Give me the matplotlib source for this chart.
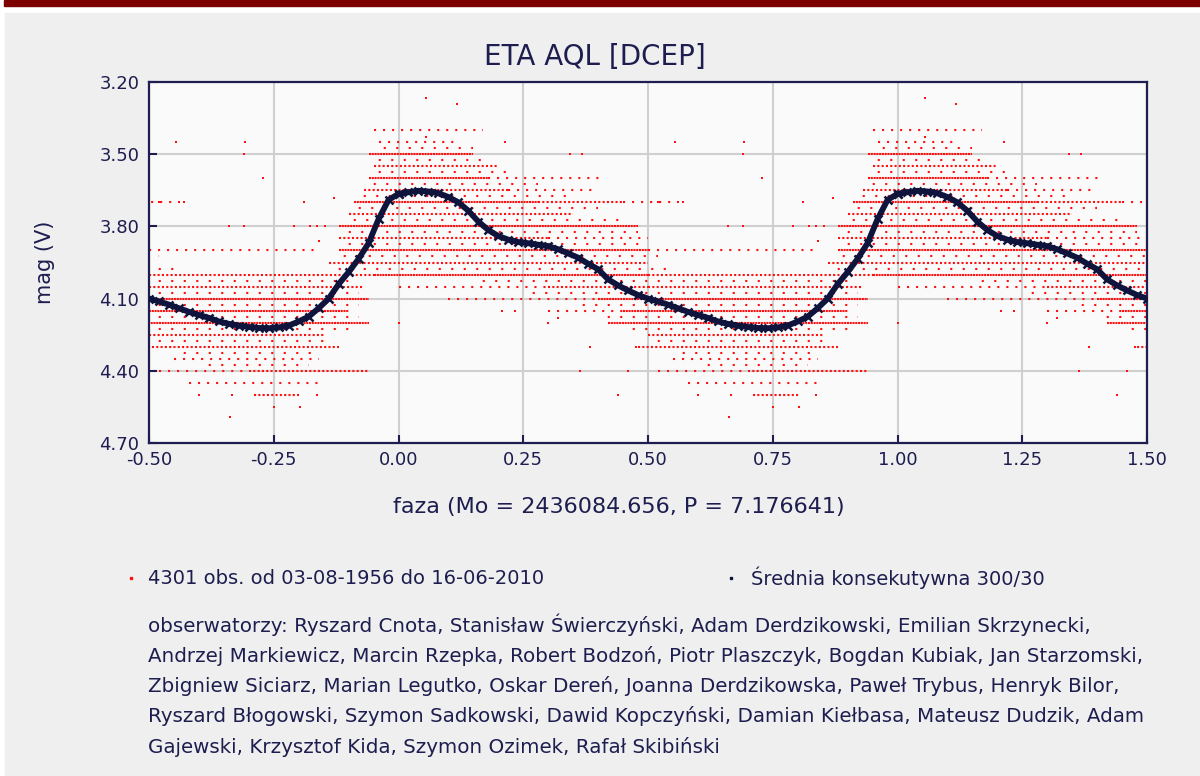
import numpy as np
import matplotlib
matplotlib.use("Agg")
import matplotlib.pyplot as plt
from matplotlib.patches import Rectangle
from matplotlib.lines import Line2D

# ---- data (phase-folded light curve of eta Aql) ----
TITLE = "ETA AQL [DCEP]"
XLABEL = "faza (Mo = 2436084.656, P = 7.176641)"
YLABEL = "mag (V)"
LEG_OBS = "4301 obs. od 03-08-1956 do 16-06-2010"
LEG_MEAN = "Średnia konsekutywna 300/30"
OBSERVERS = [
    "obserwatorzy: Ryszard Cnota, Stanisław Świerczyński, Adam Derdzikowski, Emilian Skrzynecki,",
    "Andrzej Markiewicz, Marcin Rzepka, Robert Bodzoń, Piotr Plaszczyk, Bogdan Kubiak, Jan Starzomski,",
    "Zbigniew Siciarz, Marian Legutko, Oskar Dereń, Joanna Derdzikowska, Paweł Trybus, Henryk Bilor,",
    "Ryszard Błogowski, Szymon Sadkowski, Dawid Kopczyński, Damian Kiełbasa, Mateusz Dudzik, Adam",
    "Gajewski, Krzysztof Kida, Szymon Ozimek, Rafał Skibiński",
]

X_TICKS = [-0.50, -0.25, 0.00, 0.25, 0.50, 0.75, 1.00, 1.25, 1.50]
Y_TICKS = [3.20, 3.50, 3.80, 4.10, 4.40, 4.70]

# running mean (one cycle, phase 0..1)
MEAN_PHASE = [0.00, 0.02, 0.04, 0.06, 0.08, 0.10, 0.12, 0.14, 0.16, 0.18,
              0.20, 0.22, 0.24, 0.26, 0.28, 0.30, 0.32, 0.34, 0.36, 0.38,
              0.40, 0.42, 0.44, 0.46, 0.48, 0.50, 0.52, 0.54, 0.56, 0.58,
              0.60, 0.62, 0.64, 0.66, 0.68, 0.70, 0.72, 0.74, 0.76, 0.78,
              0.80, 0.82, 0.84, 0.86, 0.88, 0.90, 0.92, 0.94, 0.96, 0.98, 1.00]
MEAN_MAG = [3.665, 3.658, 3.652, 3.655, 3.662, 3.678, 3.700, 3.735, 3.780, 3.815,
            3.840, 3.855, 3.865, 3.870, 3.876, 3.882, 3.895, 3.912, 3.930, 3.955,
            3.978, 4.020, 4.045, 4.066, 4.085, 4.100, 4.112, 4.125, 4.140, 4.155,
            4.168, 4.180, 4.195, 4.205, 4.212, 4.218, 4.222, 4.223, 4.220, 4.212,
            4.195, 4.175, 4.140, 4.100, 4.040, 3.990, 3.935, 3.870, 3.770, 3.690, 3.665]

# observations: visual estimates pile up on fixed magnitudes -> runs of points
# (magnitude, phase from, phase to, how crowded: d=dense, m=medium, s=sparse, x=scattered)
SEG_MAG = [3.40, 3.45, 3.50, 3.55, 3.60, 3.60, 3.65, 3.65, 3.70, 3.70, 3.70,
           3.75, 3.80, 3.85, 3.85, 3.90, 3.90, 3.95, 4.00, 4.00,
           4.05, 4.05, 4.05, 4.10, 4.10, 4.15, 4.15, 4.20, 4.25, 4.30,
           4.35, 4.40, 4.40, 4.45, 4.50,
           3.475, 3.525, 3.575, 3.625, 3.675, 3.725, 3.775, 3.825, 3.875,
           3.925, 3.975, 4.025, 4.075, 4.125, 4.175, 4.225, 4.275, 4.325, 4.375]
SEG_FROM = [-0.05, -0.04, -0.06, -0.05, -0.06, 0.18, -0.07, 0.22, -0.09, 0.28, 0.45,
            -0.10, -0.12, -0.12, 0.30, -0.12, 0.50, -0.14, -0.05, 0.50,
            0.00, 0.30, 0.50, 0.10, 0.40, 0.30, 0.45, 0.42, 0.50, 0.48,
            0.55, 0.52, 0.70, 0.58, 0.71,
            -0.05, -0.06, -0.06, -0.07, -0.09, -0.10, -0.11, -0.12, -0.12,
            -0.13, -0.14, 0.15, 0.25, 0.35, 0.40, 0.45, 0.50, 0.55, 0.60]
SEG_TO = [0.17, 0.12, 0.15, 0.20, 0.18, 0.41, 0.22, 0.40, 0.28, 0.45, 0.56,
          0.35, 0.48, 0.30, 0.50, 0.50, 0.83, 0.50, 0.50, 0.95,
          0.30, 0.50, 0.93, 0.40, 0.94, 0.45, 0.90, 0.94, 0.85, 0.88,
          0.84, 0.70, 0.94, 0.85, 0.80,
          0.15, 0.18, 0.22, 0.28, 0.35, 0.40, 0.45, 0.48, 0.50,
          0.52, 0.55, 0.90, 0.92, 0.92, 0.92, 0.90, 0.86, 0.84, 0.82]
SEG_DENS = ["s", "s", "d", "m", "d", "s", "m", "s", "d", "m", "s",
            "m", "d", "m", "s", "d", "s", "m", "d", "m",
            "s", "m", "m", "s", "d", "s", "d", "d", "m", "m",
            "s", "s", "m", "s", "m",
            "x", "x", "x", "x", "x", "x", "x", "x", "x",
            "x", "x", "x", "x", "x", "x", "x", "x", "x", "x"]

# single stray estimates
OUT_PHASE = [0.055, 0.117, 0.056, 0.213, 0.555, 0.692, 0.690, 0.728, 0.344, 0.368,
             0.520, 0.525, 0.560, 0.570, 0.810, 0.870, 0.660, 0.690, 0.790, 0.823,
             0.837, 0.853, 0.840, 0.384, 0.476, 0.364, 0.460, 0.440, 0.600, 0.667,
             0.837, 0.750, 0.803, 0.663, 0.000, 0.300, 0.320, 0.207, 0.234]
OUT_MAG = [3.265, 3.290, 3.430, 3.450, 3.450, 3.450, 3.500, 3.600, 3.500, 3.500,
           3.700, 3.700, 3.700, 3.700, 3.700, 3.680, 3.800, 3.800, 3.800, 3.800,
           3.800, 3.800, 3.860, 4.300, 4.300, 4.400, 4.400, 4.500, 4.500, 4.500,
           4.500, 4.550, 4.550, 4.590, 4.200, 4.200, 4.180, 4.150, 4.150]

NAVY = "#1d1d4f"
CURVE = "#0f143c"
RED = "#ff1010"
DASHES = {"d": (0, (1.5, 0.5)), "m": (0, (1.5, 1.6)),
          "s": (0, (1.5, 5.0)), "x": (2, (1.5, 7.5))}

plt.rcParams.update({
    "font.family": "DejaVu Sans",
    "lines.scale_dashes": False,
})

fig = plt.figure(figsize=(12, 7.76), dpi=100)
fig.patch.set_facecolor("white")
# page decoration: dark red strip + light grey panel
fig.patches.append(Rectangle((0.003, 1 - 6 / 776), 0.997, 6 / 776,
                             transform=fig.transFigure, color="#7d0000", zorder=-10))
fig.patches.append(Rectangle((0.004, 0), 0.996, 1 - 13 / 776,
                             transform=fig.transFigure, color="#efefef", zorder=-10))

ax = fig.add_axes([149 / 1200, 1 - 443 / 776, 998 / 1200, 361 / 776])
ax.set_zorder(2)
ax.set_facecolor("#fafafa")

offsets = [-1, 0, 1]
for k in offsets:
    for dens, style in DASHES.items():
        idx = [i for i, d in enumerate(SEG_DENS) if d == dens]
        ax.hlines([SEG_MAG[i] for i in idx],
                  [SEG_FROM[i] + k for i in idx],
                  [SEG_TO[i] + k for i in idx],
                  colors=RED, linewidth=1.5, linestyles=[style],
                  capstyle="butt", zorder=2)
    ax.scatter(np.array(OUT_PHASE) + k, OUT_MAG, s=3, marker="s",
               color=RED, linewidths=0, zorder=2)
    ax.plot(np.array(MEAN_PHASE) + k, MEAN_MAG, color=CURVE, lw=4.2,
            marker="x", ms=5.5, mew=1.8, zorder=4)

ax.set_xlim(-0.5, 1.5)
ax.set_ylim(4.70, 3.20)
ax.set_xticks(X_TICKS)
ax.set_yticks(Y_TICKS)
ax.set_xticklabels([f"{v:.2f}" for v in X_TICKS])
ax.set_yticklabels([f"{v:.2f}" for v in Y_TICKS])
ax.grid(True, color="#cfcfcf", lw=1.5, zorder=1)
ax.set_axisbelow(True)
ax.tick_params(direction="in", length=6, width=1.5, color=NAVY,
               labelcolor=NAVY, labelsize=13)
ax.tick_params(axis="y", pad=7)
ax.tick_params(axis="x", pad=6)
for sp in ax.spines.values():
    sp.set_color(NAVY)
    sp.set_linewidth(1.6)

fig.text(595 / 1200, 1 - 57 / 776, TITLE, ha="center", va="center",
         fontsize=20, color=NAVY)
fig.text(619 / 1200, 1 - 507 / 776, XLABEL, ha="center", va="center",
         fontsize=16, color=NAVY)
fig.text(45 / 1200, 1 - 262 / 776, YLABEL, ha="center", va="center",
         fontsize=15, color=NAVY, rotation=90)

# legend
fig.add_artist(Line2D([131 / 1200], [1 - 578 / 776], transform=fig.transFigure,
                      marker="s", ms=1.6, color=RED, lw=0))
fig.text(148 / 1200, 1 - 578 / 776, LEG_OBS, ha="left", va="center",
         fontsize=14, color=NAVY)
fig.add_artist(Line2D([731 / 1200], [1 - 578 / 776], transform=fig.transFigure,
                      marker="s", ms=1.6, color=CURVE, lw=0))
fig.text(751 / 1200, 1 - 578 / 776, LEG_MEAN, ha="left", va="center",
         fontsize=14, color=NAVY)

for i, line in enumerate(OBSERVERS):
    fig.text(148 / 1200, 1 - (625 + 30.5 * i) / 776, line, ha="left",
             va="center", fontsize=14.3, color=NAVY)

fig.savefig("out.png", dpi=100)
